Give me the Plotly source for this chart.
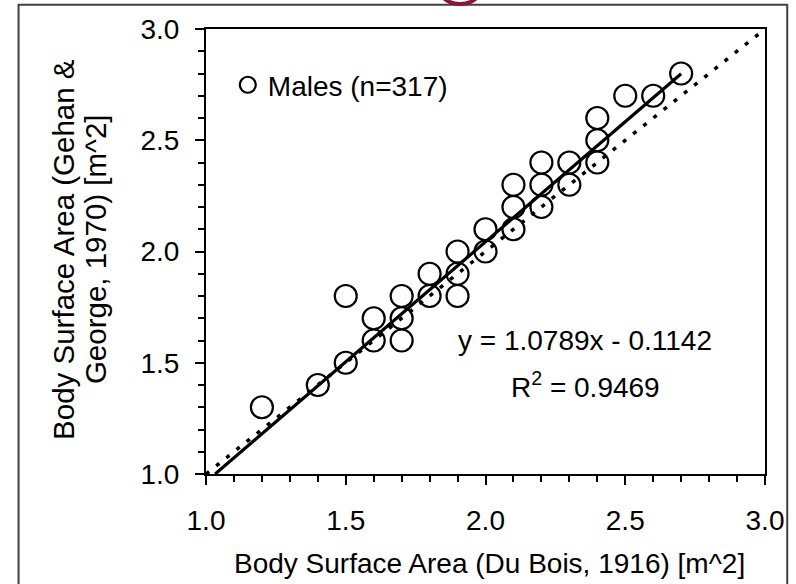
import plotly.graph_objects as go

# ---- data ----
dubois = [1.2, 1.4, 1.5, 1.5, 1.6, 1.6, 1.7, 1.7, 1.7, 1.8, 1.8, 1.9, 1.9, 1.9,
          2.0, 2.0, 2.1, 2.1, 2.1, 2.2, 2.2, 2.2, 2.3, 2.3, 2.4, 2.4, 2.4,
          2.5, 2.6, 2.7]
gehan = [1.3, 1.4, 1.5, 1.8, 1.6, 1.7, 1.6, 1.7, 1.8, 1.8, 1.9, 1.8, 1.9, 2.0,
         2.0, 2.1, 2.1, 2.2, 2.3, 2.2, 2.3, 2.4, 2.3, 2.4, 2.4, 2.5, 2.6,
         2.7, 2.7, 2.8]
slope = 1.0789
intercept = -0.1142
r_squared = 0.9469
fit_x = [(1.0 - intercept) / slope, 2.7]
identity_x = [1.0, 3.0]
tick_vals = [1.0, 1.5, 2.0, 2.5, 3.0]
tick_text = ["1.0", "1.5", "2.0", "2.5", "3.0"]
legend_name = "Males (n=317)"
x_title = "Body Surface Area (Du Bois, 1916) [m^2]"
y_title_lines = ["Body Surface Area (Gehan &", "George, 1970) [m^2]"]

FONT = "Liberation Sans, Arial, sans-serif"
FS = 28

fig = go.Figure()
fig.add_trace(go.Scatter(
    x=identity_x, y=identity_x, mode="lines", showlegend=False,
    line=dict(color="black", width=3.5, dash="4px,9px"), hoverinfo="skip"))
fig.add_trace(go.Scatter(
    x=fit_x, y=[slope * v + intercept for v in fit_x], mode="lines",
    showlegend=False, line=dict(color="black", width=3.2), hoverinfo="skip"))
fig.add_trace(go.Scatter(
    x=dubois, y=gehan, mode="markers", name=legend_name, showlegend=True,
    marker=dict(symbol="circle-open", size=22, color="black",
                line=dict(color="black", width=2.2))))

axis_common = dict(
    range=[1.0, 3.0], tickmode="array", tickvals=tick_vals, ticktext=tick_text,
    showgrid=False, zeroline=False, showline=True, linecolor="black",
    linewidth=2, mirror=True, ticks="outside", ticklen=9, tickwidth=2,
    tickcolor="black",
    minor=dict(dtick=0.1, ticks="outside", ticklen=6, tickwidth=2,
               tickcolor="black", showgrid=False),
    tickfont=dict(family=FONT, size=FS, color="black"),
)

fig.update_layout(
    width=796, height=584,
    margin=dict(l=206, r=26, t=29, b=110),
    paper_bgcolor="white", plot_bgcolor="white",
    xaxis=dict(**axis_common, ticklabelstandoff=11),
    yaxis=dict(**axis_common, ticklabelstandoff=10),
    showlegend=True,
    legend=dict(x=0.039, y=0.874, xanchor="left", yanchor="middle",
                bgcolor="rgba(0,0,0,0)", borderwidth=0,
                font=dict(family=FONT, size=FS, color="black"),
                itemsizing="trace"),
    font=dict(family=FONT, size=FS, color="black"),
)

# equation annotations
fig.add_annotation(x=0.6785, y=0.301, xref="paper", yref="paper",
                   text=f"y = {slope:.4f}x - {abs(intercept):.4f}",
                   showarrow=False, xanchor="center", yanchor="middle",
                   font=dict(family=FONT, size=FS, color="black"))
fig.add_annotation(x=0.6785, y=0.2, xref="paper", yref="paper",
                   text=f"R<sup>2</sup> = {r_squared:.4f}",
                   showarrow=False, xanchor="center", yanchor="middle",
                   font=dict(family=FONT, size=FS, color="black"))
# axis titles
fig.add_annotation(x=0.5066, y=-0.2, xref="paper", yref="paper", text=x_title,
                   showarrow=False, xanchor="center", yanchor="middle",
                   font=dict(family=FONT, size=FS, color="black"))
for xp, line in zip([-0.2560, -0.1984], y_title_lines):
    fig.add_annotation(x=xp, y=0.5056, xref="paper", yref="paper", text=line,
                       textangle=-90, showarrow=False, xanchor="center",
                       yanchor="middle",
                       font=dict(family=FONT, size=29.5, color="black"))

# outer frame and cropped logo fragment at top
fig.add_shape(type="rect", xref="paper", yref="paper",
              x0=-0.3353, x1=1.0398, y0=-0.27, y1=1.0546,
              line=dict(color="#404040", width=2), fillcolor="rgba(0,0,0,0)",
              layer="below")
fig.add_shape(type="circle", xref="paper", yref="paper",
              x0=0.4190, x1=0.4900, y0=1.056, y1=1.12,
              line=dict(color="#8a1538", width=4), fillcolor="rgba(0,0,0,0)")

fig.write_html("out.html")
